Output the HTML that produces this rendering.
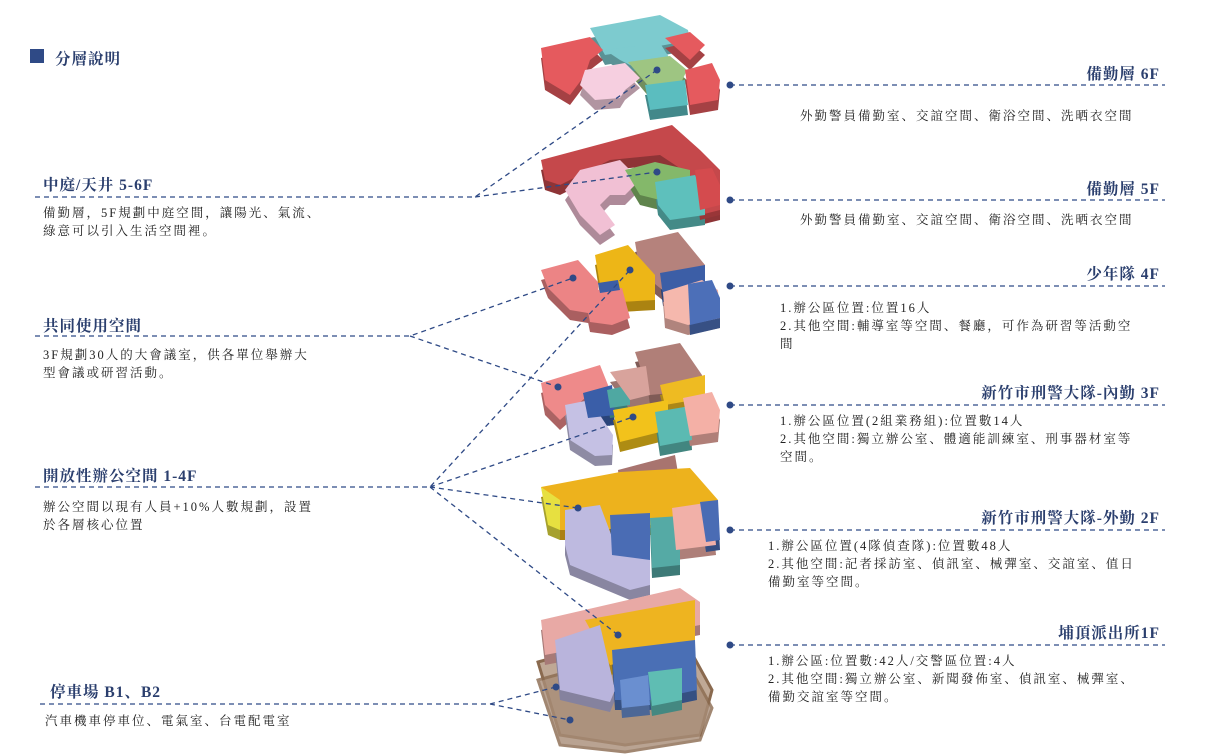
<!DOCTYPE html>
<html><head><meta charset="utf-8"><style>
body{margin:0;width:1220px;height:755px;background:#fff;position:relative;overflow:hidden;font-family:"Liberation Serif","Noto Serif CJK SC","Noto Sans CJK TC",serif;color:#222}
.h{position:absolute;font-weight:bold;color:#2b3f6e;font-size:15.5px;letter-spacing:1px;white-space:nowrap}
.t{position:absolute;font-size:12.5px;line-height:18px;letter-spacing:2px;color:#222;white-space:nowrap}
.r{text-align:right}
svg{position:absolute;left:0;top:0}
.sh{filter:brightness(.72)}
</style></head><body>
<svg width="1220" height="755">
<defs>
<g id="f1">
<polygon points="541,620 680,588 700,602 700,625 545,655" fill="#e8a9a5"/>
<polygon points="585,620 695,600 695,650 610,665" fill="#eeb420"/>
<polygon points="555,640 600,625 615,690 610,702 560,690" fill="#b9b4dc"/>
<polygon points="612,650 695,640 697,690 650,700 615,700" fill="#4a6fb5"/>
<polygon points="620,680 648,675 650,705 622,708" fill="#6a8fd0"/>
<polygon points="648,672 682,668 682,700 652,706" fill="#5fbdb3"/>
</g>
<g id="f2">
<polygon points="618,470 675,455 680,485 620,490" fill="#a8746f"/>
<polygon points="541,487 620,472 690,468 718,500 700,520 600,530 560,530 548,520" fill="#edb21d"/>
<polygon points="541,487 560,500 560,530 548,525" fill="#e7e040"/>
<polygon points="565,510 600,505 615,545 650,555 650,585 630,590 570,565 565,545" fill="#bebae0"/>
<polygon points="610,515 650,513 650,560 612,555" fill="#4a6cb4"/>
<polygon points="650,518 680,516 680,565 652,568" fill="#55aaa5"/>
<polygon points="672,508 712,502 716,545 676,550" fill="#f1b0a8"/>
<polygon points="700,502 718,500 720,540 706,542" fill="#4a6cb4"/>
</g>
<g id="f3">
<polygon points="635,352 680,343 702,375 702,390 650,395" fill="#b07f78"/>
<polygon points="541,383 600,365 610,390 585,398 560,420 545,405" fill="#ee8a8a"/>
<polygon points="565,405 590,400 613,435 612,455 595,456 570,440" fill="#c5c1e4"/>
<polygon points="583,393 612,385 615,415 588,418" fill="#3a5ea8"/>
<polygon points="607,390 630,385 630,405 610,408" fill="#4fa8a2"/>
<polygon points="610,372 646,366 650,395 630,400" fill="#d8a39c"/>
<polygon points="660,385 705,375 705,398 665,405" fill="#eebb22"/>
<polygon points="613,410 668,400 668,430 620,442" fill="#f2c21b"/>
<polygon points="655,412 690,406 692,440 660,446" fill="#5bbab2"/>
<polygon points="683,398 712,392 720,410 718,432 690,436" fill="#f4b0a6"/>
</g>
<g id="f4">
<polygon points="635,242 678,232 705,265 705,285 665,292 640,272" fill="#b5827c"/>
<polygon points="660,273 705,265 705,288 663,296" fill="#3c5ea6"/>
<polygon points="663,292 702,280 718,290 720,318 688,325 665,318" fill="#f5b8ad"/>
<polygon points="688,284 712,280 720,298 720,318 690,325" fill="#4c6fb8"/>
<polygon points="541,270 578,260 598,282 600,315 570,310 548,288" fill="#ec8485"/>
<polygon points="595,255 628,245 655,275 655,300 620,302 600,285" fill="#edb617"/>
<polygon points="598,290 622,288 630,318 612,325 590,322 586,302" fill="#ec8485"/>
<polygon points="598,283 618,280 620,290 600,293" fill="#3c5ea6"/>
</g>
<g id="f5">
<polygon points="541,160 672,125 700,150 720,170 720,210 700,215 690,175 660,155 610,160 560,185 545,180" fill="#c5484b"/>
<polygon points="580,170 620,160 640,180 625,195 610,195 600,205 615,225 600,235 580,215 565,190" fill="#f1c0d4"/>
<polygon points="625,170 655,162 690,170 690,195 660,200 640,195" fill="#84b86a"/>
<polygon points="655,182 695,175 705,195 705,215 670,220 658,205" fill="#5ec0bc"/>
<polygon points="695,170 712,168 720,185 720,205 700,210" fill="#d44b4e"/>
</g>
<g id="f6">
<polygon points="590,28 660,15 688,30 690,40 665,45 605,55" fill="#7dcbcf"/>
<polygon points="541,48 590,37 603,50 590,60 585,75 570,95 545,80" fill="#e55a5e"/>
<polygon points="665,38 690,32 705,45 695,55 690,60" fill="#e55a5e"/>
<polygon points="605,50 660,43 672,62 640,70 620,60" fill="#7dcbcf"/>
<polygon points="585,70 625,63 640,78 625,90 620,98 595,100 580,85" fill="#f6cfe0"/>
<polygon points="628,62 670,56 687,70 680,85 650,88" fill="#9ec582"/>
<polygon points="645,85 685,80 688,105 650,110" fill="#5bbdbf"/>
<polygon points="685,70 712,63 720,80 718,100 690,105" fill="#e55a5e"/>
</g>
</defs>
<polygon points="538,662 600,645 690,650 712,690 700,735 625,745 560,735" fill="#bfa895" stroke="#8a6a4f" stroke-width="3"/>
<polygon points="538,680 600,663 690,668 712,708 700,740 625,752 560,745" fill="#a88d78" stroke="#8a6a4f" stroke-width="3" opacity=".8"/>
<use href="#f6" class="sh" transform="translate(0,10)"/><use href="#f6"/>
<use href="#f5" class="sh" transform="translate(0,10)"/><use href="#f5"/>
<use href="#f4" class="sh" transform="translate(0,10)"/><use href="#f4"/>
<use href="#f3" class="sh" transform="translate(0,10)"/><use href="#f3"/>
<use href="#f2" class="sh" transform="translate(0,10)"/><use href="#f2"/>
<use href="#f1" class="sh" transform="translate(0,10)"/><use href="#f1"/>
<g stroke="#2f4a86" stroke-width="1.3" stroke-dasharray="5,4" fill="none">
<path d="M35,197 H475 L657,70 M475,197 L657,172"/>
<path d="M35,336 H410 L573,278 M410,336 L558,387"/>
<path d="M35,487 H430 L630,270 M430,487 L633,417 M430,487 L578,508 M430,487 L618,635"/>
<path d="M40,704 H490 L556,687 M490,704 L570,720"/>
<path d="M730,85 H1165 M730,200 H1165 M730,286 H1165 M730,405 H1165 M730,530 H1165 M730,645 H1165"/>
</g>
<g fill="#2f4a86">
<circle cx="657" cy="70" r="3.5"/><circle cx="657" cy="172" r="3.5"/><circle cx="573" cy="278" r="3.5"/><circle cx="630" cy="270" r="3.5"/><circle cx="558" cy="387" r="3.5"/><circle cx="633" cy="417" r="3.5"/><circle cx="578" cy="508" r="3.5"/><circle cx="618" cy="635" r="3.5"/><circle cx="556" cy="687" r="3.5"/><circle cx="570" cy="720" r="3.5"/>
<circle cx="730" cy="85" r="3.5"/><circle cx="730" cy="200" r="3.5"/><circle cx="730" cy="286" r="3.5"/><circle cx="730" cy="405" r="3.5"/><circle cx="730" cy="530" r="3.5"/><circle cx="730" cy="645" r="3.5"/>
<rect x="30" y="49" width="14" height="14"/>
</g>
</svg>
<div class="h" style="left:55px;top:47px">分層說明</div>

<div class="h" style="left:43px;top:173px">中庭/天井 5-6F</div>
<div class="t" style="left:43px;top:204px">備勤層，5F規劃中庭空間，讓陽光、氣流、<br>綠意可以引入生活空間裡。</div>
<div class="h" style="left:43px;top:314px">共同使用空間</div>
<div class="t" style="left:43px;top:346px">3F規劃30人的大會議室，供各單位舉辦大<br>型會議或研習活動。</div>
<div class="h" style="left:43px;top:464px">開放性辦公空間 1-4F</div>
<div class="t" style="left:43px;top:498px">辦公空間以現有人員+10%人數規劃，設置<br>於各層核心位置</div>
<div class="h" style="left:50px;top:680px">停車場 B1、B2</div>
<div class="t" style="left:45px;top:712px">汽車機車停車位、電氣室、台電配電室</div>

<div class="h r" style="right:60px;top:62px">備勤層 6F</div>
<div class="t" style="left:800px;top:107px">外勤警員備勤室、交誼空間、衛浴空間、洗晒衣空間</div>
<div class="h r" style="right:60px;top:177px">備勤層 5F</div>
<div class="t" style="left:800px;top:211px">外勤警員備勤室、交誼空間、衛浴空間、洗晒衣空間</div>
<div class="h r" style="right:60px;top:262px">少年隊 4F</div>
<div class="t" style="left:780px;top:299px">1.辦公區位置:位置16人<br>2.其他空間:輔導室等空間、餐廳，可作為研習等活動空<br>間</div>
<div class="h r" style="right:60px;top:381px">新竹市刑警大隊-內勤 3F</div>
<div class="t" style="left:780px;top:412px">1.辦公區位置(2組業務組):位置數14人<br>2.其他空間:獨立辦公室、體適能訓練室、刑事器材室等<br>空間。</div>
<div class="h r" style="right:60px;top:506px">新竹市刑警大隊-外勤 2F</div>
<div class="t" style="left:768px;top:537px">1.辦公區位置(4隊偵查隊):位置數48人<br>2.其他空間:記者採訪室、偵訊室、械彈室、交誼室、值日<br>備勤室等空間。</div>
<div class="h r" style="right:60px;top:621px">埔頂派出所1F</div>
<div class="t" style="left:768px;top:652px">1.辦公區:位置數:42人/交警區位置:4人<br>2.其他空間:獨立辦公室、新聞發佈室、偵訊室、械彈室、<br>備勤交誼室等空間。</div>
</body></html>
